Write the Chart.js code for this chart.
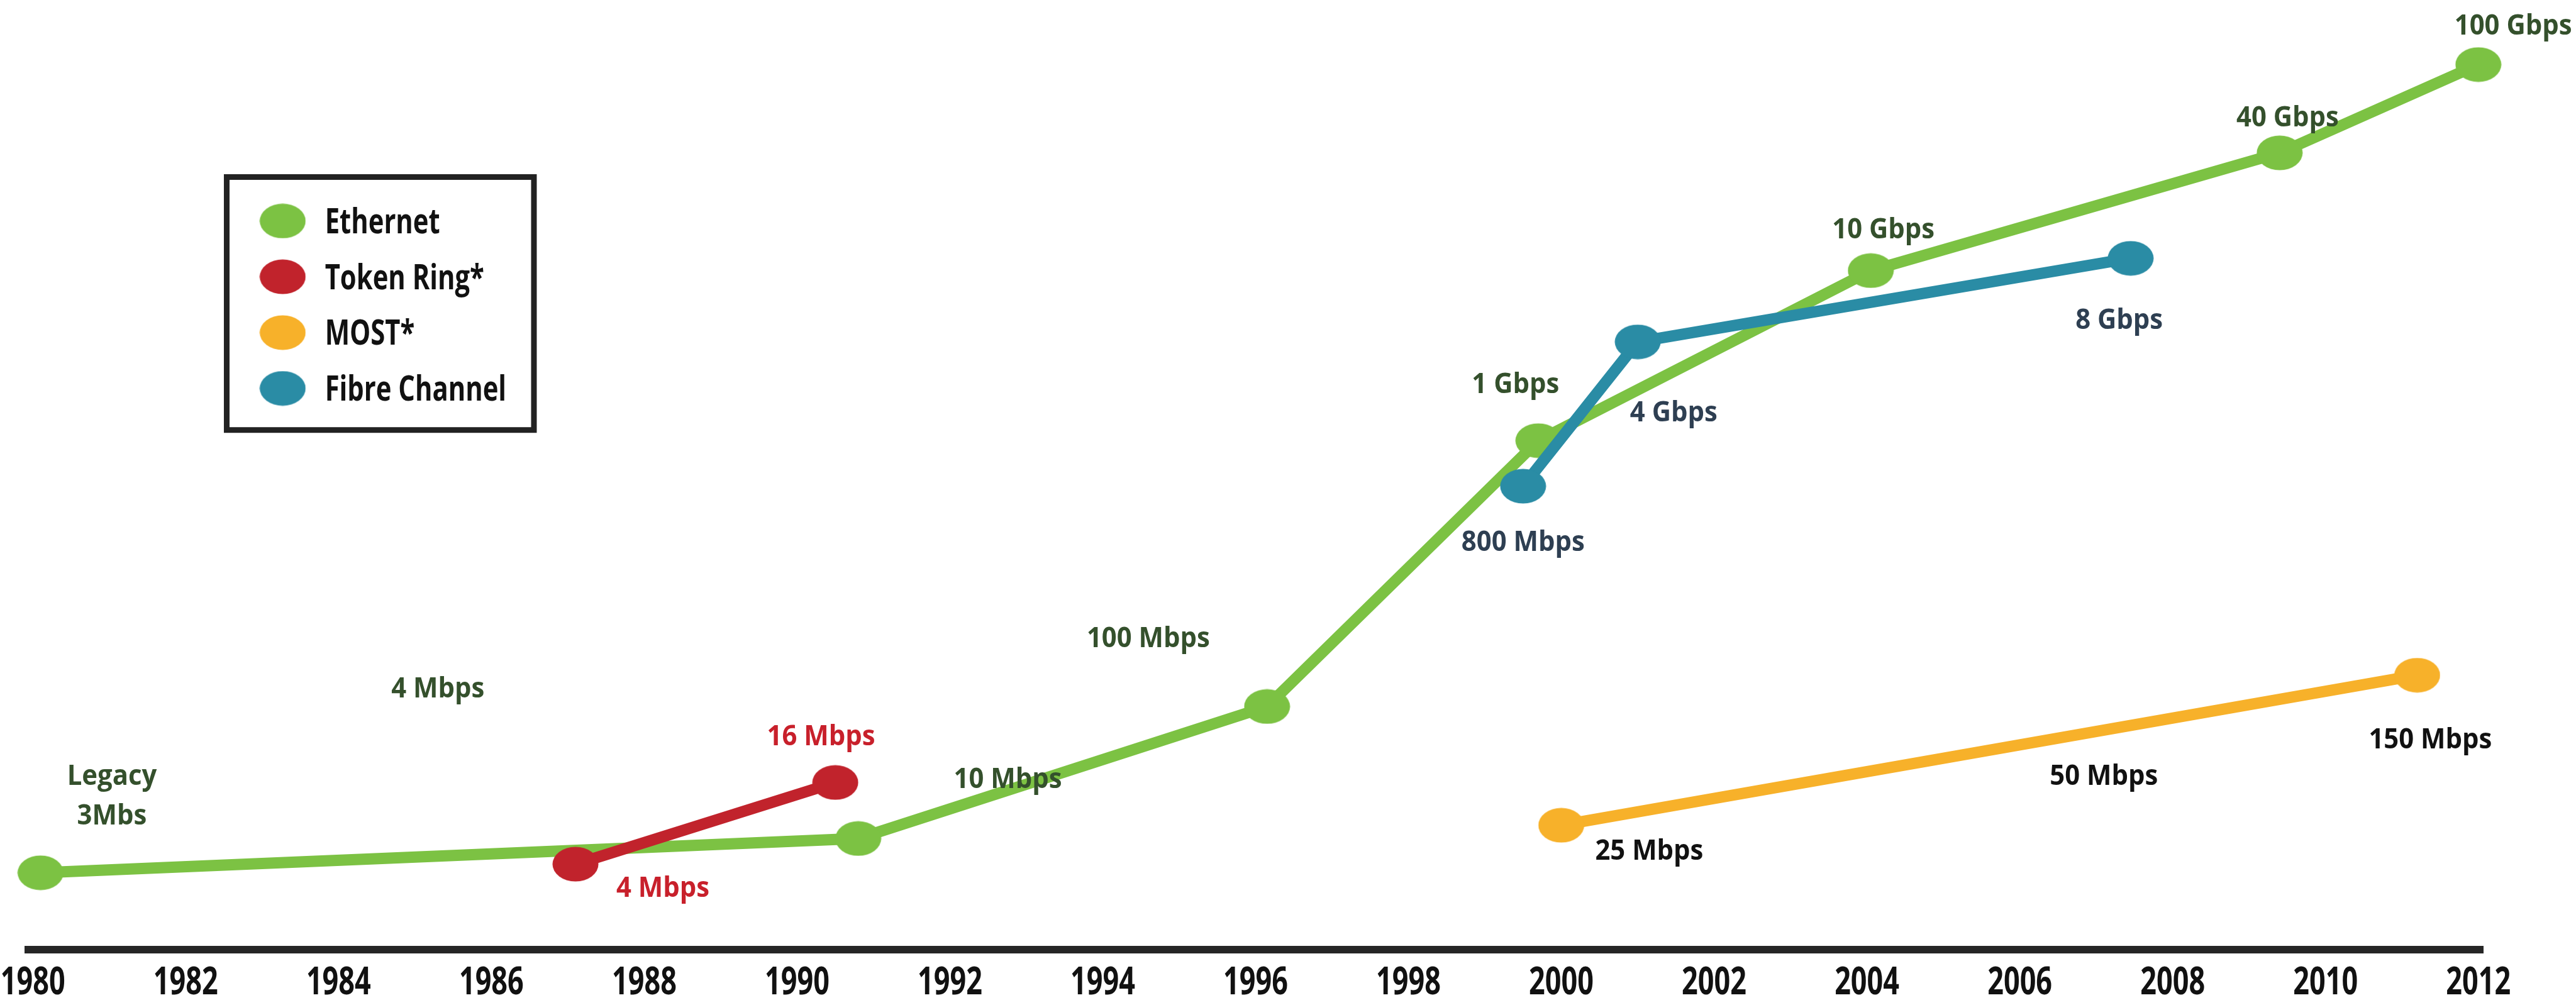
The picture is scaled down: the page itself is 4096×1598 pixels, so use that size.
<!DOCTYPE html>
<html lang="en">
<head>
    <meta charset="UTF-8">
    <title>Network Speeds</title>
    <script src="https://cdn.jsdelivr.net/npm/chart.js"></script>
    <style>
        html, body { margin: 0; padding: 0; background: #fff; }
        canvas { display: block; }
    </style>
</head>
<body>

    <canvas id="speedChart" width="4096" height="1598"></canvas>

    <script>
        // Years on the axis
        const yearTicks = [1980, 1982, 1984, 1986, 1988, 1990, 1992, 1994, 1996, 1998, 2000, 2002, 2004, 2006, 2008, 2010, 2012];

        // Each network: year of the step and its height on the chart (0 = axis, 100 = top)
        const ethernetYears  = [1980.1, 1990.8, 1996.15, 1999.7, 2004.05, 2009.4, 2012.0];
        const ethernetLevels = [8.1, 11.7, 25.6, 53.6, 71.5, 83.9, 93.2];
        const ethernetLabels = [["Legacy", "3Mbs"], "10 Mbps", "100 Mbps", "1 Gbps", "10 Gbps", "40 Gbps", "100 Gbps"];

        const tokenYears  = [1987.1, 1990.5];
        const tokenLevels = [9.0, 17.6];
        const tokenLabels = ["4 Mbps", "16 Mbps"];

        const mostYears  = [2000.0, 2011.2];
        const mostLevels = [13.1, 28.9];
        const mostLabels = ["25 Mbps", "150 Mbps"];

        const fibreYears  = [1999.5, 2001.0, 2007.45];
        const fibreLevels = [48.8, 64.0, 72.8];
        const fibreLabels = ["800 Mbps", "4 Gbps", "8 Gbps"];

        // Captions that are not tied to a marker
        const looseNotes = ["4 Mbps", "50 Mbps"];

        const S = 0.908;
        const FONT = "'Open Sans', 'DejaVu Sans Condensed', sans-serif";
        const CAP = 0.714;   // cap height of the font, in em

        // where each caption sits relative to its marker
        const labelOffsets = {
            Ethernet:        [[125, -137], [262, -106], [-208, -122], [-40, -101], [22, -74], [14, -64], [61, -70]],
            "Token Ring*":   [[153, 40], [-25, -83]],
            "MOST*":         [[154, 43], [23, 111]],
            "Fibre Channel": [[0, 96], [63, 122], [-20, 106]]
        };
        const notePlaces = [
            { year: 1985.3, level: 27.6, color: "#34502c" },
            { year: 2007.1, level: 18.4, color: "#111111" }
        ];

        function ellipseMarker(color) {
            const c = document.createElement("canvas");
            c.width = 74;
            c.height = 56;
            const g = c.getContext("2d");
            g.fillStyle = color;
            g.beginPath();
            g.ellipse(37, 28, 36.5, 27.5, 0, 0, Math.PI * 2);
            g.fill();
            return c;
        }

        function series(name, years, levels, labels, color, textColor, order) {
            return {
                label: name,
                data: years.map((x, i) => ({ x: x, y: levels[i] })),
                captions: labels,
                textColor: textColor,
                borderColor: color,
                backgroundColor: color,
                borderWidth: 18,
                pointStyle: ellipseMarker(color),
                pointRadius: 30,
                tension: 0,
                clip: false,
                order: order
            };
        }

        const datasets = [
            series("Ethernet", ethernetYears, ethernetLevels, ethernetLabels, "#7cc243", "#34502c", 4),
            series("Token Ring*", tokenYears, tokenLevels, tokenLabels, "#c1232c", "#c8202b", 3),
            series("MOST*", mostYears, mostLevels, mostLabels, "#f7b12a", "#111111", 2),
            series("Fibre Channel", fibreYears, fibreLevels, fibreLabels, "#2a8ca5", "#2e3f52", 1)
        ];

        // condensed bold text, vertically centred on its cap height
        function squeezedText(ctx, text, x, cy, size, squeeze, align) {
            ctx.save();
            ctx.font = "bold " + size + "px " + FONT;
            ctx.textAlign = align || "center";
            ctx.textBaseline = "alphabetic";
            ctx.translate(x, cy + CAP * size / 2);
            ctx.scale(squeeze, 1);
            ctx.fillText(text, 0, 0);
            ctx.restore();
        }

        function drawCaption(ctx, text, x, y, color) {
            ctx.fillStyle = color;
            const lines = Array.isArray(text) ? text : [text];
            const step = 70 * S;
            lines.forEach((line, k) => {
                squeezedText(ctx, line, x, y + (k - (lines.length - 1) / 2) * step, 45, 0.93);
            });
        }

        // value captions next to the markers
        const captionPlugin = {
            id: "captions",
            afterDatasetsDraw(chart) {
                const ctx = chart.ctx;
                chart.data.datasets.forEach((ds, i) => {
                    const meta = chart.getDatasetMeta(i);
                    const offs = labelOffsets[ds.label];
                    meta.data.forEach((pt, j) => {
                        drawCaption(ctx, ds.captions[j], pt.x + offs[j][0] * S, pt.y + offs[j][1] * S, ds.textColor);
                    });
                });
                const xs = chart.scales.x, ys = chart.scales.y;
                looseNotes.forEach((txt, k) => {
                    const p = notePlaces[k];
                    drawCaption(ctx, txt, xs.getPixelForValue(p.year), ys.getPixelForValue(p.level), p.color);
                });
            }
        };

        // year labels under the axis line, narrow like the rest of the type
        const yearLabelPlugin = {
            id: "yearLabels",
            afterDraw(chart) {
                const ctx = chart.ctx;
                const xs = chart.scales.x;
                ctx.fillStyle = "#111";
                xs.ticks.forEach(t => {
                    squeezedText(ctx, String(t.value), xs.getPixelForValue(t.value), 1718 * S, 60, 0.75);
                });
            }
        };

        // boxed legend in the upper left
        const legendBoxPlugin = {
            id: "legendBox",
            afterDraw(chart) {
                const ctx = chart.ctx;
                ctx.save();
                ctx.strokeStyle = "#222";
                ctx.lineWidth = 9;
                ctx.strokeRect(397 * S, 310 * S, 538 * S, 443 * S);
                ctx.fillStyle = "#111";
                chart.data.datasets.forEach((ds, i) => {
                    const cy = (387 + i * 97.7) * S;
                    const img = ds.pointStyle;
                    ctx.drawImage(img, 495 * S - img.width / 2, cy - img.height / 2);
                    squeezedText(ctx, ds.label, 569 * S, cy, 55, 0.76, "left");
                });
                ctx.restore();
            }
        };

        const ctx = document.getElementById("speedChart").getContext("2d");
        new Chart(ctx, {
            type: "line",
            data: { datasets: datasets },
            options: {
                responsive: false,
                animation: false,
                devicePixelRatio: 1,
                layout: {
                    autoPadding: false,
                    padding: { left: 45, right: 148, top: 0, bottom: 0 }
                },
                plugins: {
                    legend: { display: false },
                    tooltip: { enabled: false }
                },
                scales: {
                    x: {
                        type: "linear",
                        min: 1979.94,
                        max: 2012.06,
                        afterBuildTicks: scale => { scale.ticks = yearTicks.map(v => ({ value: v })); },
                        afterFit: scale => {
                            scale.height = 88;
                            scale.paddingLeft = 0;
                            scale.paddingRight = 0;
                        },
                        grid: { display: false, drawTicks: false },
                        border: { display: true, color: "#262626", width: 12 },
                        ticks: { display: false }
                    },
                    y: {
                        type: "linear",
                        min: 0,
                        max: 100,
                        display: false
                    }
                }
            },
            plugins: [captionPlugin, yearLabelPlugin, legendBoxPlugin]
        });
    </script>

</body>
</html>
